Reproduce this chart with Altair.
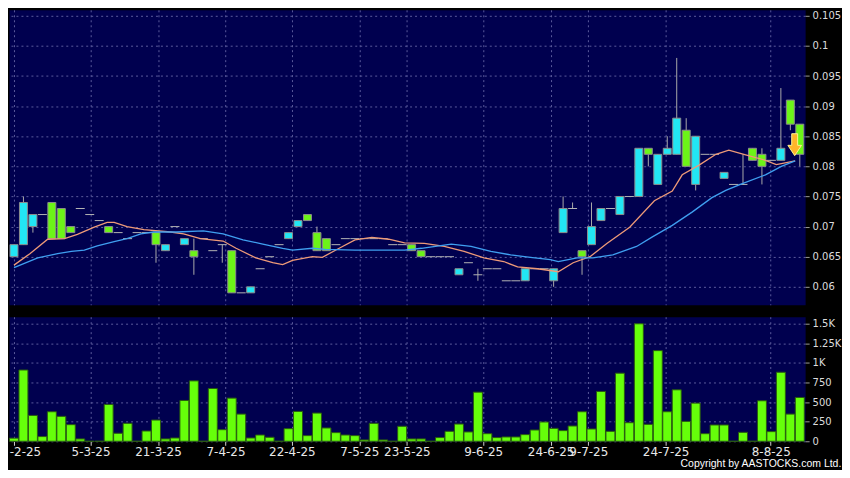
import json
import altair as alt
import pandas as pd

# ---------------- data ----------------
bar_no = list(range(1, 85))

open_ = [0.065, 0.067, 0.070, 0.072, 0.074, 0.073, 0.070, 0.073, 0.072, 0.071,
         0.070, 0.069, 0.068, 0.069, 0.069, 0.069, 0.066, 0.070, 0.067, 0.066,
         0.068, 0.066, 0.067, 0.066, 0.059, 0.059, 0.063, 0.065, 0.067, 0.068,
         0.070, 0.072, 0.069, 0.068, 0.067, 0.068, 0.068, 0.068, 0.068, 0.068,
         0.067, 0.067, 0.067, 0.066, 0.065, 0.065, 0.065, 0.062, 0.064, 0.062,
         0.063, 0.063, 0.061, 0.061, 0.061, 0.063, 0.063, 0.061, 0.069, 0.073,
         0.066, 0.067, 0.071, 0.073, 0.072, 0.075, 0.075, 0.083, 0.077, 0.082,
         0.082, 0.086, 0.077, 0.082, 0.082, 0.078, 0.077, 0.077, 0.083, 0.082,
         0.081, 0.081, 0.091, 0.087]

close_ = [0.067, 0.074, 0.072, 0.072, 0.068, 0.068, 0.069, 0.073, 0.072, 0.071,
          0.069, 0.069, 0.068, 0.069, 0.069, 0.067, 0.067, 0.070, 0.068, 0.065,
          0.068, 0.066, 0.067, 0.059, 0.059, 0.060, 0.063, 0.065, 0.067, 0.069,
          0.071, 0.071, 0.066, 0.066, 0.067, 0.068, 0.068, 0.068, 0.068, 0.068,
          0.067, 0.067, 0.066, 0.065, 0.065, 0.065, 0.065, 0.063, 0.064, 0.062,
          0.063, 0.063, 0.061, 0.061, 0.063, 0.063, 0.063, 0.063, 0.073, 0.073,
          0.065, 0.070, 0.073, 0.073, 0.075, 0.075, 0.083, 0.082, 0.082, 0.083,
          0.088, 0.080, 0.085, 0.082, 0.082, 0.079, 0.077, 0.077, 0.081, 0.080,
          0.081, 0.083, 0.087, 0.082]

high_ = [0.067, 0.075, 0.072, 0.072, 0.074, 0.073, 0.070, 0.073, 0.072, 0.071,
         0.070, 0.069, 0.068, 0.069, 0.069, 0.069, 0.067, 0.070, 0.068, 0.068,
         0.068, 0.066, 0.067, 0.066, 0.059, 0.060, 0.063, 0.065, 0.067, 0.069,
         0.071, 0.072, 0.070, 0.068, 0.067, 0.068, 0.068, 0.068, 0.068, 0.068,
         0.067, 0.067, 0.067, 0.066, 0.065, 0.065, 0.065, 0.063, 0.064, 0.063,
         0.063, 0.063, 0.061, 0.061, 0.063, 0.063, 0.063, 0.063, 0.075, 0.074,
         0.066, 0.074, 0.073, 0.073, 0.075, 0.075, 0.083, 0.083, 0.082, 0.085,
         0.098, 0.088, 0.085, 0.082, 0.082, 0.079, 0.077, 0.082, 0.083, 0.083,
         0.081, 0.093, 0.091, 0.087]

low_ = [0.065, 0.067, 0.069, 0.072, 0.068, 0.068, 0.069, 0.073, 0.072, 0.071,
        0.069, 0.069, 0.068, 0.069, 0.069, 0.064, 0.066, 0.070, 0.067, 0.062,
        0.068, 0.066, 0.064, 0.059, 0.059, 0.059, 0.063, 0.065, 0.067, 0.068,
        0.070, 0.071, 0.066, 0.066, 0.067, 0.068, 0.068, 0.068, 0.068, 0.068,
        0.067, 0.067, 0.066, 0.065, 0.065, 0.065, 0.065, 0.062, 0.064, 0.061,
        0.063, 0.063, 0.061, 0.061, 0.061, 0.063, 0.063, 0.060, 0.069, 0.073,
        0.062, 0.067, 0.071, 0.073, 0.072, 0.075, 0.075, 0.080, 0.077, 0.082,
        0.082, 0.080, 0.076, 0.082, 0.082, 0.078, 0.077, 0.077, 0.081, 0.077,
        0.081, 0.081, 0.086, 0.080]

volume = [40, 910, 330, 60, 377, 318, 212, 30, 0, 0,
          470, 102, 229, 0, 131, 271, 30, 42, 521, 771,
          0, 674, 148, 551, 347, 42, 80, 51, 0, 161,
          381, 72, 360, 170, 110, 80, 72, 17, 229, 17,
          0, 191, 30, 30, 0, 47, 127, 220, 119, 627,
          97, 47, 55, 55, 85, 144, 246, 165, 136, 195,
          377, 157, 636, 127, 869, 237, 1500, 216, 1157, 377,
          657, 254, 487, 97, 208, 208, 0, 114, 0, 517,
          123, 881, 347, 559]

# short moving average (orange): bar position, price
ma_short_pos = [1.0, 2.68, 4.56, 6.34, 7.70, 9.48, 10.84, 11.58, 12.94, 14.72,
                17.54, 18.91, 20.69, 23.09, 24.46, 26.55, 28.33, 29.38, 30.42, 32.52,
                33.57, 35.35, 37.02, 38.80, 40.58, 42.26, 44.35, 46.45, 48.54, 50.63,
                52.73, 54.19, 56.29, 58.49, 60.06, 61.84, 63.62, 66.03, 68.64, 70.53,
                71.58, 73.36, 75.14, 76.50, 78.28, 80.37, 81.52, 83.51]
ma_short_val = [0.0636, 0.0655, 0.0679, 0.0680, 0.0687, 0.0699, 0.0707, 0.0707, 0.0700, 0.0695,
                0.0691, 0.0688, 0.0680, 0.0676, 0.0664, 0.0648, 0.0640, 0.0637, 0.0644, 0.0650,
                0.0649, 0.0664, 0.0678, 0.0682, 0.0679, 0.0673, 0.0672, 0.0667, 0.0659, 0.0648,
                0.0642, 0.0633, 0.0630, 0.0625, 0.0640, 0.0650, 0.0672, 0.0699, 0.0743, 0.0759,
                0.0786, 0.0802, 0.0820, 0.0827, 0.0819, 0.0810, 0.0803, 0.0809]

# long moving average (blue)
ma_long_pos = [1.0, 3.51, 5.61, 7.07, 8.43, 9.80, 11.58, 12.94, 14.40, 15.76,
               18.17, 21.0, 23.09, 25.19, 27.28, 29.38, 30.42, 32.52, 33.88, 37.02,
               42.26, 44.04, 47.18, 49.27, 51.37, 53.46, 55.55, 57.65, 58.49, 60.48,
               62.15, 64.25, 66.76, 68.43, 70.53, 72.62, 74.72, 76.18, 77.86, 80.37,
               82.05, 83.51]
ma_long_val = [0.0632, 0.0648, 0.0655, 0.0659, 0.0661, 0.0668, 0.0675, 0.0680, 0.0688, 0.0691,
               0.0691, 0.0693, 0.0688, 0.0678, 0.0671, 0.0664, 0.0661, 0.0664, 0.0662, 0.0661,
               0.0661, 0.0664, 0.0671, 0.0667, 0.0659, 0.0653, 0.0649, 0.0645, 0.0642, 0.0648,
               0.0648, 0.0653, 0.0667, 0.0683, 0.0702, 0.0724, 0.0748, 0.0760, 0.0771, 0.0786,
               0.0800, 0.0809]

# signal arrow
arrow_pos = [83.46]
arrow_val = [0.0836]

# date axis
tick_pos = [1.03, 9.09, 16.21, 23.34, 30.35, 37.47, 42.50, 50.56, 57.68, 61.66, 69.83, 80.93]
tick_labels = ["-2-25", "5-3-25", "21-3-25", "7-4-25", "22-4-25", "7-5-25", "23-5-25",
               "9-6-25", "24-6-25", "9-7-25", "24-7-25", "8-8-25"]

price_ticks = [0.06, 0.065, 0.07, 0.075, 0.08, 0.085, 0.09, 0.095, 0.1, 0.105]
vol_ticks = [0, 250, 500, 750, 1000, 1250, 1500]
vol_tick_labels = ["0", "250", "500", "750", "1K", "1.25K", "1.5K"]

# ---------------- tables ----------------
df = pd.DataFrame({"i": bar_no, "o": open_, "h": high_, "l": low_, "c": close_, "v": volume})
df["dir"] = ["up" if c > o else ("down" if c < o else "flat") for o, c in zip(open_, close_)]
ma_s = pd.DataFrame({"i": ma_short_pos, "p": ma_short_val})
ma_l = pd.DataFrame({"i": ma_long_pos, "p": ma_long_val})
arrow_df = pd.DataFrame({"i": arrow_pos, "p": arrow_val})

# ---------------- styling ----------------
FONT = "DejaVu Sans"
NAVY = "#00004f"
GRID = dict(grid=True, gridColor="#5a5a9c", gridDash=[2, 3], gridWidth=1)
CYAN = "#22e6f4"
GREEN = "#6cf418"

xs = alt.Scale(domain=[0.474, 84.563], nice=False, zero=False, padding=0)
ys = alt.Scale(domain=[0.05702, 0.10599], nice=False, zero=False, padding=0)
vs = alt.Scale(domain=[0, 1590], nice=False, zero=False, padding=0)

x_top = alt.X("i:Q", scale=xs,
              axis=alt.Axis(values=tick_pos, labels=False, ticks=False, domain=False,
                            title=None, **GRID))

price_axis = alt.Axis(orient="right", values=price_ticks, format=".3~f", title=None,
                      domain=False, tickSize=4, tickColor="#9a9a9a", labelColor="#dcdcdc",
                      labelFont=FONT, labelFontSize=10, labelPadding=3, labelOverlap=False,
                      **GRID)


def yp(field):
    return alt.Y(field, scale=ys, axis=price_axis)


label_expr = "{}[indexof({}, datum.value)]".format(json.dumps(tick_labels), json.dumps(tick_pos))
vol_label_expr = "{}[indexof({}, datum.value)]".format(json.dumps(vol_tick_labels), json.dumps(vol_ticks))

x_bottom = alt.X("i:Q", scale=xs,
                 axis=alt.Axis(values=tick_pos, labelExpr=label_expr, labelOverlap=False,
                               labelAlign={"condition": {"test": "datum.value < 2", "value": "left"},
                                           "value": "center"},
                               labelOffset={"condition": {"test": "datum.value < 2", "value": -5},
                                            "value": 0},
                               domain=False, title=None, tickSize=4, tickColor="#cfcfcf",
                               labelColor="#e8e8e8", labelFont=FONT, labelFontSize=12,
                               labelPadding=1, **GRID))

vol_axis = alt.Axis(orient="right", values=vol_ticks, labelExpr=vol_label_expr, title=None,
                    domain=False, tickSize=4, tickColor="#9a9a9a", labelColor="#dcdcdc",
                    labelFont=FONT, labelFontSize=10, labelPadding=3, labelOverlap=False,
                    **GRID)

base = alt.Chart(df)

wicks = base.mark_rule(color="#a9a9a9", strokeWidth=1).encode(
    x=x_top, y=yp("l:Q"), y2="h:Q")

bodies = base.transform_filter("datum.o != datum.c").mark_bar(
    size=8, orient="vertical", stroke="#8c8c8c", strokeWidth=1).encode(
    x=x_top, y=yp("o:Q"), y2="c:Q",
    color=alt.Color("dir:N", scale=alt.Scale(domain=["up", "down"], range=[CYAN, GREEN]),
                    legend=None))

dojis = base.transform_filter("datum.o == datum.c").mark_tick(
    orient="horizontal", size=9, thickness=1, color="#b4b4b4", opacity=1).encode(
    x=x_top, y=yp("o:Q"))

line_short = alt.Chart(ma_s).mark_line(color="#ee9a78", strokeWidth=1.3).encode(
    x=x_top, y=yp("p:Q"))
line_long = alt.Chart(ma_l).mark_line(color="#3f9ff0", strokeWidth=1.3).encode(
    x=x_top, y=yp("p:Q"))

arrow_shape = "M-0.27,-1L0.27,-1L0.27,0.06L0.62,0.06L0,1L-0.62,0.06L-0.27,0.06Z"
arrow = alt.Chart(arrow_df).mark_point(
    shape=arrow_shape, size=484, filled=True, fill="#ffb52a", stroke="#fff38f",
    strokeWidth=1, opacity=1).encode(x=x_top, y=yp("p:Q"))

price_panel = alt.layer(wicks, bodies, dojis, line_short, line_long, arrow).properties(
    width=799, height=296)

vol_panel = alt.Chart(df).mark_bar(
    size=9, orient="vertical", color="#66ff0a", stroke="#2a5a10", strokeWidth=1).encode(
    x=x_bottom, y=alt.Y("v:Q", scale=vs, axis=vol_axis)).properties(width=799, height=125)

chart = alt.vconcat(price_panel, vol_panel, spacing=10).properties(
    title=alt.TitleParams("Copyright by AASTOCKS.com Ltd.", orient="bottom", anchor="end",
                          fontSize=10.5, fontWeight="normal", color="#ffffff",
                          font="Liberation Sans", offset=1)
).configure(background="#000000", padding=0).configure_view(fill=NAVY, stroke="transparent")

chart.save("out.html", embed_options={"renderer": "svg", "actions": False})
